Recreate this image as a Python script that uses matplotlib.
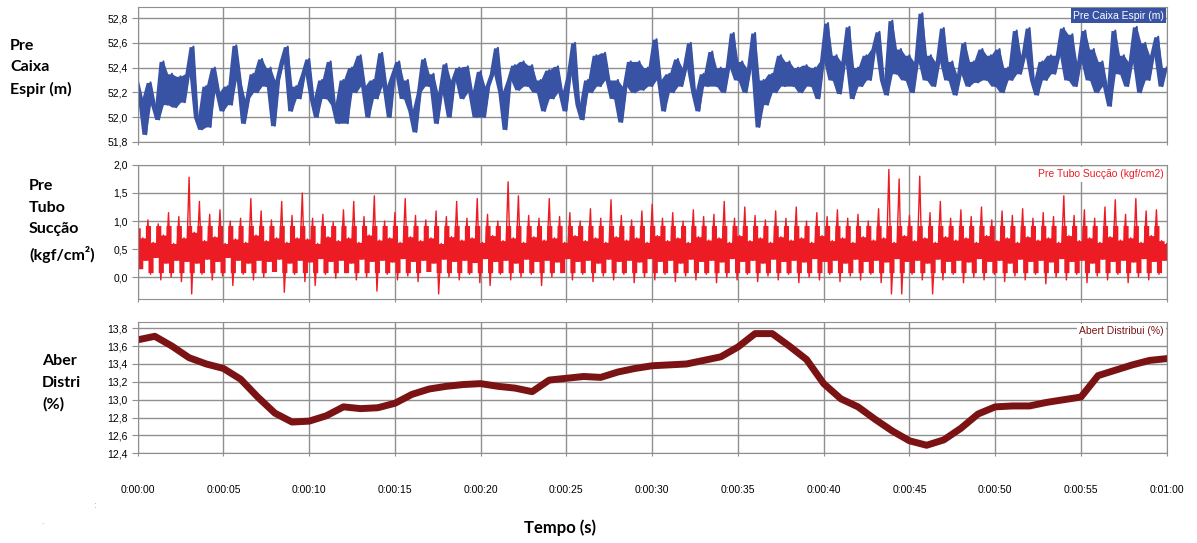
import numpy as np
import matplotlib.pyplot as plt
from matplotlib.ticker import FuncFormatter

# Pre Caixa Espir (m), one reading every 0.25 s
caixa = [
    52.30, 52.15, 51.86, 52.28, 52.10, 51.98, 52.45, 52.10, 52.35, 52.08, 52.33, 52.12,
    52.35, 52.57, 52.00, 51.90, 52.25, 51.92, 52.40, 52.20, 52.05, 52.25, 52.10, 52.58,
    52.30, 51.95, 52.15, 52.35, 52.20, 52.47, 52.25, 52.40, 51.93, 52.30, 52.45, 52.57,
    52.05, 52.25, 52.15, 52.35, 52.47, 52.15, 52.00, 52.30, 52.15, 52.45, 52.10, 51.95,
    52.30, 51.95, 52.40, 52.20, 52.50, 52.25, 52.00, 52.30, 52.15, 52.52, 52.25, 52.00,
    52.35, 52.45, 52.15, 52.30, 52.05, 51.88, 52.20, 52.47, 52.25, 52.35, 51.95, 52.20,
    52.43, 52.00, 52.30, 52.40, 52.15, 52.41, 52.20, 52.00, 52.37, 52.00, 52.25, 52.35,
    52.56, 52.20, 51.90, 52.30, 52.42, 52.22, 52.45, 52.25, 52.42, 52.20, 52.30, 52.05,
    52.38, 52.15, 52.41, 52.20, 52.05, 52.35, 52.60, 52.10, 51.98, 52.30, 52.20, 52.50,
    52.25, 52.52, 52.30, 52.15, 52.30, 51.96, 52.25, 52.45, 52.20, 52.45, 52.22, 52.40,
    52.25, 52.63, 52.30, 52.05, 52.35, 52.20, 52.47, 52.25, 52.40, 52.60, 52.20, 52.05,
    52.35, 52.25, 52.53, 52.25, 52.40, 52.20, 52.40, 52.68, 52.30, 52.45, 52.20, 52.40,
    52.68, 51.92, 52.30, 52.10, 52.35, 52.20, 52.50, 52.25, 52.45, 52.25, 52.40, 52.20,
    52.42, 52.25, 52.40, 52.15, 52.45, 52.76, 52.30, 52.50, 52.19, 52.45, 52.73, 52.15,
    52.40, 52.25, 52.50, 52.30, 52.55, 52.69, 52.30, 52.18, 52.78, 52.35, 52.55, 52.30,
    52.50, 52.20, 52.45, 52.84, 52.30, 52.50, 52.25, 52.45, 52.72, 52.30, 52.45, 52.18,
    52.35, 52.60, 52.25, 52.45, 52.28, 52.55, 52.30, 52.50, 52.25, 52.55, 52.20, 52.40,
    52.30, 52.70, 52.35, 52.50, 52.72, 52.30, 52.18, 52.45, 52.30, 52.50, 52.35, 52.50,
    52.72, 52.30, 52.67, 52.25, 52.45, 52.70, 52.30, 52.55, 52.20, 52.45, 52.25, 52.09,
    52.70, 52.35, 52.50, 52.25, 52.45, 52.73, 52.20, 52.60, 52.30, 52.50, 52.65, 52.25,
    52.40,
]

# Pre Tubo Succao (kgf/cm2), one reading every 0.15 s
succao = [
    0.88, 0.15, 0.70, 0.30, 1.02, 0.05, 0.62, 0.35, 0.95, -0.05, 0.75, 0.25,
    1.15, 0.00, 0.60, 0.30, 1.08, -0.08, 0.70, 0.28, 1.78, -0.30, 0.80, 0.25,
    1.35, 0.05, 0.65, 0.32, 1.12, -0.05, 0.72, 0.28, 1.20, 0.02, 0.60, 0.35,
    1.00, -0.15, 0.68, 0.30, 1.05, 0.05, 0.62, 0.25, 1.40, -0.05, 0.75, 0.30,
    1.18, 0.00, 0.65, 0.28, 1.02, 0.10, 0.70, 0.32, 1.35, -0.27, 0.62, 0.25,
    1.10, 0.05, 0.70, 0.30, 1.50, -0.08, 0.68, 0.27, 1.05, -0.15, 0.60, 0.33,
    1.12, 0.05, 0.72, 0.28, 0.98, -0.02, 0.65, 0.30, 1.20, 0.08, 0.70, 0.25,
    1.35, -0.05, 0.62, 0.32, 1.08, 0.00, 0.75, 0.28, 1.45, -0.25, 0.66, 0.30,
    1.00, 0.05, 0.70, 0.27, 1.15, -0.05, 0.62, 0.33, 1.40, 0.02, 0.72, 0.28,
    1.10, -0.08, 0.65, 0.30, 1.02, 0.10, 0.70, 0.25, 1.18, -0.30, 0.60, 0.32,
    1.08, 0.00, 0.72, 0.28, 1.35, -0.05, 0.66, 0.30, 1.05, 0.05, 0.70, 0.26,
    1.40, -0.10, 0.62, 0.33, 1.12, -0.15, 0.74, 0.28, 1.00, 0.05, 0.65, 0.30,
    1.70, -0.05, 0.70, 0.25, 1.45, 0.00, 0.62, 0.32, 1.10, 0.05, 0.72, 0.28,
    1.05, -0.15, 0.66, 0.30, 1.40, 0.00, 0.70, 0.27, 1.08, 0.08, 0.62, 0.33,
    1.15, -0.05, 0.74, 0.28, 1.00, 0.05, 0.65, 0.30, 1.22, -0.08, 0.70, 0.25,
    1.05, 0.02, 0.62, 0.32, 1.38, -0.05, 0.72, 0.28, 1.10, 0.05, 0.66, 0.30,
    1.02, -0.10, 0.70, 0.27, 1.18, 0.00, 0.62, 0.33, 1.30, -0.05, 0.74, 0.28,
    1.05, 0.05, 0.65, 0.30, 1.15, -0.08, 0.70, 0.25, 1.00, 0.02, 0.62, 0.32,
    1.20, -0.05, 0.72, 0.28, 1.08, 0.05, 0.66, 0.30, 1.12, -0.10, 0.70, 0.27,
    1.35, 0.00, 0.62, 0.33, 1.05, -0.05, 0.74, 0.28, 1.25, 0.05, 0.65, 0.30,
    1.10, -0.08, 0.70, 0.25, 1.02, 0.02, 0.62, 0.32, 1.18, -0.05, 0.72, 0.28,
    1.05, 0.05, 0.66, 0.30, 1.25, -0.10, 0.70, 0.27, 1.00, 0.00, 0.62, 0.33,
    1.15, -0.05, 0.74, 0.28, 1.08, 0.05, 0.65, 0.30, 1.20, -0.08, 0.70, 0.25,
    1.05, 0.02, 0.62, 0.32, 1.12, -0.05, 0.72, 0.28, 1.00, 0.05, 0.66, 0.30,
    1.22, -0.10, 0.70, 0.27, 1.92, -0.30, 0.62, 0.33, 1.75, -0.30, 0.74, 0.28,
    1.10, 0.05, 0.65, 0.30, 1.80, -0.05, 0.70, 0.25, 1.15, -0.30, 0.62, 0.32,
    1.35, -0.05, 0.72, 0.28, 1.05, 0.05, 0.66, 0.30, 1.20, -0.10, 0.70, 0.27,
    1.08, 0.00, 0.62, 0.33, 1.25, -0.05, 0.74, 0.28, 1.02, 0.05, 0.65, 0.30,
    1.18, -0.08, 0.70, 0.25, 1.10, 0.02, 0.62, 0.32, 1.22, -0.05, 0.72, 0.28,
    1.05, 0.05, 0.66, 0.30, 1.15, -0.12, 0.70, 0.27, 1.08, 0.00, 0.62, 0.33,
    1.45, -0.05, 0.74, 0.28, 1.10, 0.05, 0.65, 0.30, 1.20, -0.10, 0.70, 0.25,
    1.05, 0.02, 0.62, 0.32, 1.25, -0.05, 0.72, 0.28, 1.38, 0.05, 0.66, 0.30,
    1.12, -0.10, 0.70, 0.27, 1.40, 0.00, 0.62, 0.33, 1.18, -0.05, 0.74, 0.28,
    1.20, 0.05, 0.65, 0.30, 0.60,
]

# Abert Distribui (%), one reading every 1 s
abert = [
    13.67, 13.71, 13.60, 13.47, 13.40, 13.35, 13.23, 13.03, 12.85, 12.75,
    12.76, 12.82, 12.92, 12.90, 12.91, 12.96, 13.06, 13.12, 13.15, 13.17,
    13.18, 13.15, 13.13, 13.09, 13.22, 13.24, 13.26, 13.25, 13.31, 13.35,
    13.38, 13.39, 13.40, 13.44, 13.48, 13.59, 13.74, 13.74, 13.60, 13.45,
    13.18, 13.01, 12.92, 12.78, 12.65, 12.54, 12.49, 12.55, 12.68, 12.84,
    12.92, 12.93, 12.93, 12.97, 13.00, 13.03, 13.27, 13.33, 13.39, 13.44,
    13.46,
]

t_caixa = np.linspace(0, 60, len(caixa))
t_succao = np.linspace(0, 60, len(succao))
t_abert = np.linspace(0, 60, len(abert))

# span of each pair of neighbouring readings -> the dense band of a noisy trace
def pair_span(vals):
    a = np.array(vals)
    hi = np.append(np.maximum(a[:-1], a[1:]), a[-1])
    lo = np.append(np.minimum(a[:-1], a[1:]), a[-1])
    return lo, hi

caixa_lo, caixa_hi = pair_span(caixa)
succao_lo, succao_hi = pair_span(succao)
# clip the red core so that the isolated spikes stay thin
core_hi = np.minimum(succao_hi, 0.92)
core_lo = np.maximum(succao_lo, 0.08)

blue = '#3953a4'
red = '#ed1c24'
dred = '#7b1315'
grid_c = '#8f8f8f'
tick_font = 'Liberation Sans'
lab_font = ['Lato', 'DejaVu Sans']

fig = plt.figure(figsize=(11.97, 5.43), dpi=100)

def comma(v, pos):
    return ('%.1f' % v).replace('.', ',')

def setup(ax, ylim, yticks):
    ax.set_xlim(0, 60)
    ax.set_ylim(*ylim)
    ax.set_xticks(np.arange(0, 61, 5))
    ax.set_yticks(yticks)
    ax.yaxis.set_major_formatter(FuncFormatter(comma))
    ax.grid(True, color=grid_c, linewidth=1)
    ax.set_axisbelow(True)
    for s in ax.spines.values():
        s.set_color(grid_c)
    ax.tick_params(axis='y', direction='out', length=4, color=grid_c, pad=3,
                   labelsize=7.5)
    ax.tick_params(axis='x', direction='out', length=2, color=grid_c)
    for lbl in ax.get_yticklabels():
        lbl.set_family(tick_font)

# Top panel
ax1 = fig.add_axes([0.1150, 0.739, 0.8597, 0.248])
ax1.fill_between(t_caixa, caixa_lo, caixa_hi, color=blue, linewidth=0)
ax1.plot(t_caixa, caixa, color=blue, linewidth=1.5)
setup(ax1, (51.8, 52.89), np.arange(51.8, 52.81, 0.2))
ax1.set_xticklabels([])
ax1.text(0.9974, 0.937, 'Pre Caixa Espir (m)', transform=ax1.transAxes, ha='right',
         va='center', color='white', fontsize=7.5, family=tick_font,
         bbox=dict(facecolor=blue, edgecolor='none', pad=1.5))

# Middle panel
ax2 = fig.add_axes([0.1150, 0.4494, 0.8597, 0.2468])
ax2.fill_between(t_succao, core_lo, core_hi, color=red, linewidth=0, step='post')
ax2.plot(t_succao, succao, color=red, linewidth=1.0)
setup(ax2, (-0.39, 2.0), np.arange(0, 2.01, 0.5))
ax2.set_xticklabels([])
ax2.text(0.9974, 0.929, 'Pre Tubo Sucção (kgf/cm2)', transform=ax2.transAxes, ha='right',
         va='center', color=red, fontsize=7.5, family=tick_font,
         bbox=dict(facecolor='white', edgecolor='none', pad=1.5))

# Bottom panel
ax3 = fig.add_axes([0.1150, 0.1652, 0.8597, 0.2418])
ax3.plot(t_abert, abert, color=dred, linewidth=5)
setup(ax3, (12.4, 13.87), np.arange(12.4, 13.81, 0.2))
ax3.xaxis.set_major_formatter(FuncFormatter(lambda v, p: '0:%02d:%02d' % (int(v) // 60, int(v) % 60)))
ax3.tick_params(axis='x', labelsize=7.5, pad=21)
for lbl in ax3.get_xticklabels():
    lbl.set_family(tick_font)
ax3.text(0.9974, 0.931, 'Abert Distribui (%)', transform=ax3.transAxes, ha='right',
         va='center', color=dred, fontsize=7.5, family=tick_font,
         bbox=dict(facecolor='white', edgecolor='none', pad=1.5))

# Side labels
fig.text(10 / 1197, 1 - 68 / 543, 'Pre\nCaixa\nEspir (m)', ha='left', va='center',
         fontsize=11.5, fontweight='bold', family=lab_font, linespacing=1.68)
fig.text(29 / 1197, 1 - 221 / 543, 'Pre\nTubo\nSucção\n(kgf/cm²)', ha='left', va='center',
         fontsize=11.5, fontweight='bold', family=lab_font, linespacing=1.68)
fig.text(42 / 1197, 1 - 383 / 543, 'Aber\nDistri\n(%)', ha='left', va='center',
         fontsize=11.5, fontweight='bold', family=lab_font, linespacing=1.68)
fig.text(560 / 1197, 1 - 528 / 543, 'Tempo (s)', ha='center', va='center',
         fontsize=12, fontweight='bold', family=lab_font)
fig.text(95 / 1197, 1 - 505 / 543, ':', ha='center', va='center', fontsize=6, color='#999999')
fig.text(42 / 1197, 1 - 522 / 543, '.', ha='center', va='center', fontsize=6, color='#999999')

fig.savefig('out.png', dpi=100)
